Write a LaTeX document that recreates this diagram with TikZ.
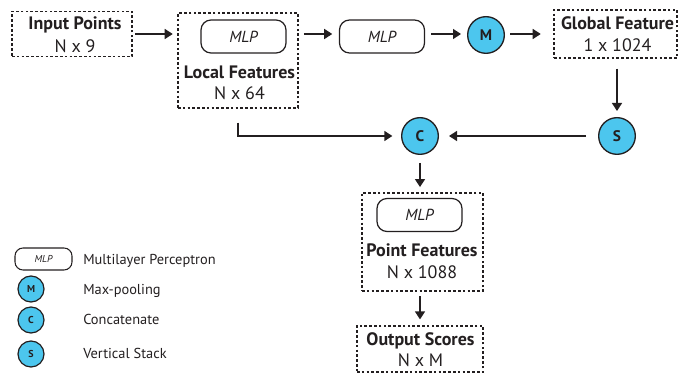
\documentclass[tikz,border=0pt]{standalone}
\usepackage{fontspec}
\setmainfont{PT Sans}
\usetikzlibrary{arrows.meta}
\definecolor{cyanf}{HTML}{4CC6EE}
\definecolor{ink}{HTML}{231F20}
\begin{document}
\begin{tikzpicture}[x=0.75pt,y=-0.75pt,
  dbox/.style={draw=ink, dash pattern=on 2pt off 1.6pt, line width=0.9pt, inner sep=0pt},
  mlp/.style={draw=ink, rounded corners=7.5pt, line width=0.9pt, minimum width=63.75pt, minimum height=24.75pt, inner sep=0pt, font=\itshape\fontsize{12}{14}\selectfont, text=ink},
  mlps/.style={draw=ink, rounded corners=6pt, line width=0.8pt, minimum width=42.75pt, minimum height=16.5pt, inner sep=0pt, font=\itshape\fontsize{7.5}{9}\selectfont, text=ink},
  op/.style={circle, draw=ink, fill=cyanf, line width=1pt, minimum size=27.5pt, inner sep=0pt, font=\bfseries\fontsize{11.5}{13}\selectfont, text=ink},
  ops/.style={circle, draw=ink, fill=cyanf, line width=0.9pt, minimum size=19.5pt, inner sep=0pt, font=\bfseries\fontsize{7.5}{9}\selectfont, text=ink},
  ttl/.style={anchor=base, inner sep=0pt, font=\bfseries\fontsize{13.5}{15}\selectfont, text=ink},
  sub/.style={anchor=base, inner sep=0pt, font=\fontsize{13.5}{15}\selectfont, text=ink},
  leg/.style={anchor=base west, inner sep=0pt, font=\fontsize{10.8}{12}\selectfont, text=ink},
  arr/.style={-{Triangle[length=6pt,width=7.5pt]}, line width=1.05pt, draw=ink}
]
\useasboundingbox (0,0) rectangle (682,373);

% boxes
\node[dbox, minimum width=90pt, minimum height=33.75pt] (inp) at (72,34) {};
\node[dbox, minimum width=90pt, minimum height=71.25pt] (loc) at (238,60.5) {};
\node[dbox, minimum width=92.25pt, minimum height=36pt] (glob) at (615.5,34) {};
\node[dbox, minimum width=90.75pt, minimum height=73.5pt] (pt) at (422.5,242) {};
\node[dbox, minimum width=94.5pt, minimum height=34.5pt] (out) at (420,349) {};

% texts
\node[ttl] (tinp) at (75,30) {Input Points};
\node[sub] (sinp) at (75,53) {N x 9};
\node[ttl] (tloc) at (239.5,79) {Local Features};
\node[sub] (sloc) at (239.5,100) {N x 64};
\node[ttl] (tglob) at (617.5,30) {Global Feature};
\node[sub] (sglob) at (617.5,52) {1 x 1024};
\node[ttl] (tpt) at (422,257) {Point Features};
\node[sub] (spt) at (422,279) {N x 1088};
\node[ttl] (tout) at (420.5,346) {Output Scores};
\node[sub] (sout) at (420.5,367) {N x M};

% MLPs and operators
\node[mlp] (mlp1) at (243.5,36.5) {MLP};
\node[mlp] (mlp2) at (382,36.5) {MLP};
\node[mlp] (mlp3) at (419.5,215) {MLP};
\node[op] (M) at (486,35) {M};
\node[op] (S) at (617,136) {S};
\node[op] (C) at (420,136) {C};

% connectors
\draw[arr, shorten <=2pt, shorten >=3.5pt] (inp.east) -- (inp.east -| loc.west);
\draw[arr, shorten <=4pt, shorten >=5pt] (loc.east |- 0,34) -- (mlp2.west |- 0,34);
\draw[arr, shorten <=4.5pt, shorten >=4.5pt] (mlp2.east |- 0,34) -- (M.west |- 0,34);
\draw[arr, shorten <=4pt, shorten >=9.5pt] (M.east |- 0,34) -- (glob.west |- 0,34);
\draw[arr, shorten <=7.5pt, shorten >=4.5pt] (glob.south -| S) -- (S.north);
\draw[arr, shorten <=9pt, shorten >=7.5pt] (S.west) -- (C.east);
\coordinate (lstart) at ([yshift=-10.5pt]loc.south);
\draw[arr, shorten >=6.5pt] (lstart) |- (C.west);
\draw[arr, shorten <=6pt, shorten >=4pt] (C.south) -- (C.south |- pt.north);
\draw[arr, shorten <=3.5pt, shorten >=4.5pt] (pt.south -| out) -- (out.north);

% legend
\node[mlps] (lmlp) at (43.5,259) {MLP};
\node[ops] (lM) at (31,289) {M};
\node[ops] (lC) at (31,320) {C};
\node[ops] (lS) at (31,354) {S};
\node[leg] (tmlp) at (83,265) {Multilayer Perceptron};
\node[leg] (tM) at (83,295) {Max-pooling};
\node[leg] (tC) at (83,325) {Concatenate};
\node[leg] (tS) at (83,359) {Vertical Stack};
\end{tikzpicture}
\end{document}
